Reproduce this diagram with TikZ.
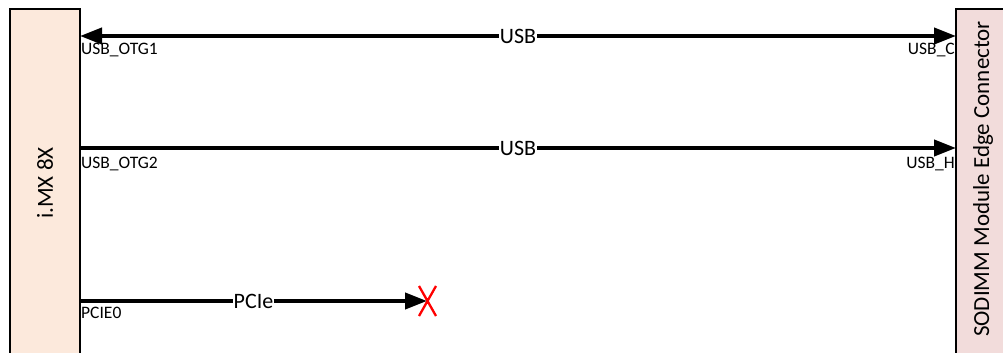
\documentclass[tikz,border=0pt]{standalone}
\usepackage{fontspec}
\setmainfont{Carlito}
\usetikzlibrary{arrows.meta}
\definecolor{socfill}{RGB}{252,233,220}
\definecolor{edgefill}{RGB}{242,220,219}
\definecolor{xred}{RGB}{255,0,0}
\begin{document}
\begin{tikzpicture}[x=1pt,y=-1pt,
  blockbox/.style={draw=black,line width=2pt},
  bus/.style={line width=4pt,-{Triangle[length=22pt,width=16pt]}},
  bibus/.style={line width=4pt,{Triangle[length=22pt,width=16pt]}-{Triangle[length=22pt,width=16pt]}},
  buslabel/.style={fill=white,inner sep=1pt,font=\fontsize{22}{22}\selectfont},
  pinlabel/.style={inner sep=0pt,font=\fontsize{17.5}{17.5}\selectfont},
  blocklabel/.style={rotate=90,inner sep=0pt,font=\fontsize{23}{23}\selectfont}]
\useasboundingbox (0,0) rectangle (1003,353);
\begin{scope}
\clip (0,0) rectangle (1003,353);
\draw[blockbox,fill=socfill] (10,9) rectangle (80,370);
\draw[blockbox,fill=edgefill] (956,9) rectangle (1010,370);
\end{scope}
\node[blocklabel] (soc) at (45,183) {i.MX 8X};
\node[blocklabel] (edge) at (983,179) {SODIMM Module Edge Connector};
\coordinate (l1) at (80,36);
\coordinate (r1) at (956,36);
\coordinate (l2) at (80,148);
\coordinate (r2) at (956,148);
\coordinate (l3) at (80,301);
\coordinate (x3) at (427,301);
\draw[bibus] (l1) -- node[buslabel] (u1) {USB} (r1);
\draw[bus] (l2) -- node[buslabel] (u2) {USB} (r2);
\draw[bus] (l3) -- node[buslabel] (p3) {PCIe} (x3);
\draw[xred,line width=2.3pt] (419,286) -- (436,316) (436,286) -- (419,316);
\node[pinlabel,anchor=base west] (otg1) at (81,55) {USB\_OTG1};
\node[pinlabel,anchor=base west] (otg2) at (81,168) {USB\_OTG2};
\node[pinlabel,anchor=base west] (pcie0) at (81,318) {PCIE0};
\node[pinlabel,anchor=base east] (usbc) at (955,55) {USB\_C};
\node[pinlabel,anchor=base east] (usbh) at (955,168) {USB\_H};
\end{tikzpicture}
\end{document}
